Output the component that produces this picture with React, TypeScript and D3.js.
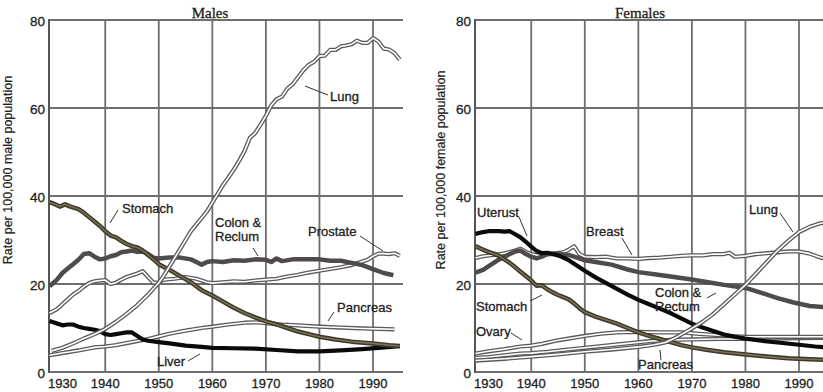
import React from "react";
import * as d3 from "d3";

type P = [number, number];

// ---------- tick labels ----------
const yTicks = [0, 20, 40, 60, 80];
const xTicks = [1930, 1940, 1950, 1960, 1970, 1980, 1990];
const xGrid = [1940, 1950, 1960, 1970, 1980, 1990];

// ---------- Males ----------
const maleLung: P[] = [
  [1930, 4.8], [1932, 5.5], [1934, 6.5], [1936, 7.6], [1938, 8.6], [1940, 9.8], [1942, 11.4], [1944, 13.2],
  [1946, 15.2], [1948, 17.6], [1950, 20.3], [1951, 22], [1952, 24], [1953, 26], [1954, 28], [1955, 30],
  [1956, 32], [1957, 33.5], [1958, 35], [1959, 36.5], [1960, 38.5], [1961, 40.5], [1962, 42.5], [1963, 44.2],
  [1964, 46], [1965, 48], [1966, 50.2], [1967, 53.2], [1968, 54.3], [1969, 56.2], [1970, 58.2], [1971, 60.6],
  [1972, 62], [1973, 62.6], [1974, 64.4], [1975, 65.4], [1976, 67], [1977, 68.6], [1978, 69.8], [1979, 70.5],
  [1980, 71.8], [1981, 71.9], [1982, 73.2], [1983, 73.2], [1984, 74], [1985, 74.2], [1986, 74.5], [1987, 75.3],
  [1988, 74.8], [1989, 74.8], [1990, 75.9], [1991, 75.1], [1992, 73.5], [1993, 73.3], [1994, 72.5], [1995, 71]
];
const maleColon: P[] = [
  [1929.6, 19.5], [1931, 21], [1932, 22.5], [1933, 23.5], [1934, 24.5], [1935, 25.5], [1936, 26.8], [1937, 27],
  [1938, 26.2], [1939, 25.6], [1940, 25.8], [1941, 26.3], [1942, 26.6], [1943, 27.2], [1944, 27.4], [1945, 27.6],
  [1946, 27.3], [1947, 27.4], [1948, 26.8], [1949, 26], [1950, 25.8], [1952, 26], [1954, 26], [1956, 25.6],
  [1957, 25], [1958, 24.4], [1959, 25], [1960, 25.2], [1962, 25], [1964, 25.4], [1966, 25.3], [1968, 25.6],
  [1970, 25.5], [1971, 25], [1972, 25.8], [1973, 25.2], [1975, 25.6], [1978, 25.6], [1980, 25.6], [1982, 25.3],
  [1984, 25.3], [1986, 24.8], [1988, 24.3], [1990, 23.4], [1992, 22.5], [1993.8, 22]
];
const maleStomach: P[] = [
  [1929.6, 38.6], [1930.5, 38.2], [1931.5, 37.6], [1932.5, 38.1], [1933.5, 37.6], [1935, 37], [1936, 36.2],
  [1937, 35.2], [1938, 34.2], [1939, 33.2], [1940, 32], [1941, 31], [1942, 30.6], [1943, 29.8], [1944, 29.1],
  [1945, 28.6], [1946, 28.3], [1947, 27.6], [1948, 26.6], [1949, 25.6], [1950, 24.5], [1952, 23.2], [1954, 21.8],
  [1956, 20.4], [1958, 18.6], [1960, 17.4], [1962, 16], [1964, 14.6], [1966, 13.4], [1968, 12.4], [1970, 11.5],
  [1972, 10.8], [1974, 10], [1976, 9.2], [1978, 8.6], [1980, 8], [1983, 7.4], [1986, 6.9], [1990, 6.5],
  [1993, 6.1], [1995, 5.9]
];
const maleProstate: P[] = [
  [1929.6, 13.4], [1931, 14.3], [1932, 15.4], [1933, 16.5], [1934, 17.6], [1935, 18.4], [1936, 19.4], [1937, 20.2],
  [1938, 20.6], [1939, 20.8], [1940, 20.9], [1941, 20], [1942, 20.3], [1943, 21], [1944, 21.6], [1945, 22],
  [1946, 22.4], [1947, 22.9], [1948, 21.6], [1949, 20.3], [1950, 20.4], [1951, 21], [1953, 21.2], [1955, 21.6],
  [1957, 21.2], [1959, 20.4], [1960, 20.2], [1962, 20.4], [1964, 20.6], [1966, 20.5], [1968, 20.8], [1970, 21],
  [1972, 21.2], [1974, 21.7], [1976, 22.1], [1978, 22.6], [1980, 23], [1982, 23.4], [1984, 23.8], [1986, 24.3],
  [1988, 25.1], [1989, 25.5], [1990, 26.3], [1991, 26.9], [1992, 26.9], [1993, 26.8], [1994, 27], [1995, 26.4]
];
const malePancreas: P[] = [
  [1929.6, 3.8], [1932, 4.3], [1935, 4.9], [1938, 5.6], [1940, 5.8], [1942, 6.1], [1945, 6.8], [1948, 7.5],
  [1950, 8.1], [1952, 8.7], [1955, 9.4], [1958, 10], [1960, 10.3], [1963, 10.8], [1966, 11.2], [1968, 11.3],
  [1970, 11.1], [1973, 10.8], [1976, 10.6], [1980, 10.3], [1984, 10.1], [1988, 9.9], [1991, 9.8], [1994, 9.7]
];
const maleLiver: P[] = [
  [1929.6, 11.6], [1931, 11], [1932, 10.6], [1933, 10.8], [1934, 10.8], [1935, 10.3], [1936, 10], [1937, 9.8],
  [1938, 9.6], [1939, 9.3], [1940, 8.6], [1941, 8.4], [1942, 8.6], [1943, 8.8], [1944, 9], [1945, 9],
  [1946, 8.2], [1947, 7.4], [1948, 7.1], [1950, 6.8], [1952, 6.5], [1955, 6], [1958, 5.7], [1960, 5.5],
  [1964, 5.4], [1968, 5.3], [1972, 5], [1976, 4.7], [1980, 4.7], [1984, 4.9], [1988, 5.2], [1991, 5.5],
  [1995, 5.9]
];

// ---------- Females ----------
const femUterus: P[] = [
  [1929.6, 31.4], [1931, 31.8], [1932, 32], [1934, 32], [1935, 31.9], [1936, 32], [1937, 31.3], [1938, 30.6],
  [1939, 29.6], [1940, 28.5], [1941, 27.5], [1942, 27], [1943, 27.1], [1944, 26.8], [1945, 26.5], [1946, 26],
  [1947, 25.4], [1948, 24.6], [1950, 23], [1952, 21.5], [1954, 20.2], [1956, 18.9], [1958, 17.6], [1960, 16.4],
  [1962, 15.4], [1964, 14.4], [1966, 13.4], [1968, 12.2], [1970, 11], [1972, 10.1], [1974, 9.3], [1976, 8.5],
  [1978, 8], [1980, 7.6], [1983, 7.1], [1986, 6.7], [1990, 6.2], [1993, 5.8], [1996, 5.5]
];
const femBreast: P[] = [
  [1929.6, 25.9], [1931, 26.3], [1933, 26.6], [1935, 27], [1937, 27.6], [1938, 28], [1939, 27.3], [1940, 26.8],
  [1941, 26.5], [1942, 26.6], [1944, 26.9], [1946, 27.2], [1947, 27.8], [1948, 28.6], [1949, 26.8], [1950, 26.2],
  [1952, 26.1], [1954, 26.2], [1956, 25.8], [1958, 25.8], [1960, 25.7], [1962, 25.9], [1964, 26], [1966, 26.2],
  [1968, 26.4], [1970, 26.5], [1972, 26.5], [1974, 26.8], [1976, 26.8], [1977, 27.1], [1978, 26.2], [1980, 26.4],
  [1982, 26.8], [1984, 27], [1986, 27.2], [1988, 27.4], [1990, 27.4], [1992, 26.9], [1994, 26], [1996, 25.6]
];
const femColon: P[] = [
  [1929.6, 22.6], [1931, 23.2], [1932, 24], [1933, 24.8], [1934, 25.6], [1935, 26.2], [1936, 26.8], [1937, 27.4],
  [1938, 27.6], [1939, 26.8], [1940, 26.2], [1941, 25.8], [1942, 26.2], [1943, 26.8], [1945, 26.8], [1947, 26.6],
  [1948, 26.2], [1950, 25.4], [1952, 25], [1955, 24.4], [1958, 23.3], [1960, 22.7], [1963, 22.2], [1966, 21.7],
  [1970, 21], [1973, 20.4], [1976, 19.8], [1980, 19.1], [1983, 18], [1986, 16.8], [1989, 15.8], [1992, 15],
  [1996, 14.6]
];
const femStomach: P[] = [
  [1929.6, 28.6], [1931, 27.8], [1932, 27.3], [1933, 26.9], [1934, 26.4], [1935, 25.6], [1936, 24.8], [1937, 23.8],
  [1938, 22.8], [1939, 21.8], [1940, 20.8], [1941, 19.6], [1942, 19.7], [1943, 18.8], [1944, 18.1], [1945, 17.5],
  [1946, 17], [1947, 16.5], [1948, 15.6], [1949, 14.5], [1950, 13.6], [1952, 12.6], [1954, 11.8], [1956, 11],
  [1958, 10], [1960, 9], [1962, 8.2], [1964, 7.5], [1966, 6.8], [1968, 6.1], [1970, 5.6], [1973, 5],
  [1976, 4.5], [1980, 4], [1984, 3.5], [1988, 3.1], [1992, 2.9], [1996, 2.7]
];
const femLung: P[] = [
  [1929.6, 2.6], [1935, 3], [1940, 3.5], [1945, 4], [1950, 4.6], [1955, 5.1], [1960, 5.7], [1963, 6.2],
  [1965, 6.7], [1967, 7.8], [1969, 9.2], [1970, 9.9], [1972, 11.4], [1974, 13.2], [1976, 15.4], [1978, 17.6],
  [1980, 19.8], [1982, 22.4], [1984, 25], [1986, 27.6], [1988, 29.8], [1990, 31.8], [1992, 33], [1994, 33.8],
  [1996, 34]
];
const femOvary: P[] = [
  [1929.6, 4.2], [1932, 4.7], [1935, 5.2], [1938, 5.8], [1940, 6], [1942, 6.4], [1945, 7.2], [1948, 7.8],
  [1950, 8.2], [1953, 8.7], [1956, 9], [1960, 9.1], [1964, 9], [1968, 9], [1972, 8.6], [1976, 8.3],
  [1980, 8], [1985, 8], [1990, 8], [1996, 8]
];
const femPancreas: P[] = [
  [1929.6, 3.2], [1932, 3.4], [1935, 3.8], [1938, 4.2], [1940, 4.3], [1943, 4.6], [1946, 5], [1950, 5.5],
  [1954, 6], [1958, 6.5], [1962, 7], [1966, 7.3], [1970, 7.4], [1975, 7.5], [1980, 7.5], [1985, 7.6],
  [1990, 7.7], [1996, 7.8]
];

type Style = "double" | "colon" | "stomach" | "black";

const maleSeries: { name: string; data: P[]; style: Style }[] = [
  { name: "Pancreas", data: malePancreas, style: "double" },
  { name: "Prostate", data: maleProstate, style: "double" },
  { name: "Liver", data: maleLiver, style: "black" },
  { name: "Colon & Rectum", data: maleColon, style: "colon" },
  { name: "Stomach", data: maleStomach, style: "stomach" },
  { name: "Lung", data: maleLung, style: "double" },
];
const femaleSeries: { name: string; data: P[]; style: Style }[] = [
  { name: "Pancreas", data: femPancreas, style: "double" },
  { name: "Ovary", data: femOvary, style: "double" },
  { name: "Breast", data: femBreast, style: "double" },
  { name: "Colon & Rectum", data: femColon, style: "colon" },
  { name: "Stomach", data: femStomach, style: "stomach" },
  { name: "Uterus", data: femUterus, style: "black" },
  { name: "Lung", data: femLung, style: "double" },
];

type Label = { lines: string[]; x: number; y: number; lead: [number, number, number, number] };
const maleLabels: Label[] = [
  { lines: ["Lung"], x: 330, y: 101, lead: [305, 86, 328, 95] },
  { lines: ["Stomach"], x: 122, y: 213, lead: [118, 210, 110, 223] },
  { lines: ["Colon &", "Reclum"], x: 215, y: 227, lead: [253, 248, 258, 256] },
  { lines: ["Prostate"], x: 308, y: 236, lead: [360, 236, 383, 251] },
  { lines: ["Pancreas"], x: 337, y: 312, lead: [334, 312, 328, 321] },
  { lines: ["Liver"], x: 157, y: 366, lead: [188, 361, 200, 354] },
];
const femaleLabels: Label[] = [
  { lines: ["Uterust"], x: 477, y: 217, lead: [519, 217, 527, 236] },
  { lines: ["Breast"], x: 586, y: 236, lead: [622, 238, 632, 255] },
  { lines: ["Stomach"], x: 476, y: 311, lead: [530, 301, 542, 295] },
  { lines: ["Colon &", "Rectum"], x: 655, y: 297, lead: [707, 298, 716, 293] },
  { lines: ["Ovary"], x: 476, y: 336, lead: [511, 333, 522, 340] },
  { lines: ["Pancreas"], x: 638, y: 369, lead: [660, 350, 661, 360] },
  { lines: ["Lung"], x: 749, y: 214, lead: [780, 213, 793, 232] },
];

const SANS = "'Liberation Sans', Arial, sans-serif";
const SERIF = "'Liberation Serif', 'Times New Roman', serif";

function Panel({
  x0, x1, title, titleX, yLabel, yLabelX, series, labels,
}: {
  x0: number; x1: number; title: string; titleX: number; yLabel: string; yLabelX: number;
  series: { name: string; data: P[]; style: Style }[]; labels: Label[];
}) {
  const x = d3.scaleLinear().domain([1929.5, 1995.6]).range([x0, x1]);
  const y = d3.scaleLinear().domain([0, 80]).range([372, 20]);
  const line = d3.line<P>().x((d) => x(d[0])).y((d) => y(d[1])).curve(d3.curveLinear);
  const grid = "#6e6e6e";
  return (
    <g>
      {yTicks.map((t) => (
        <line key={"h" + t} x1={x0} x2={x1} y1={y(t)} y2={y(t)} stroke={grid} strokeWidth={1.8} />
      ))}
      {xGrid.map((t) => (
        <line key={"v" + t} x1={x(t)} x2={x(t)} y1={y(80)} y2={y(0)} stroke={grid} strokeWidth={1.8} />
      ))}
      <line x1={x0} x2={x0} y1={y(80) - 1} y2={y(0) + 1} stroke="#555" strokeWidth={2} />
      {series.map((s) => {
        const dStr = line(s.data) || "";
        if (s.style === "double")
          return (
            <g key={s.name}>
              <path d={dStr} fill="none" stroke="#5a5a5a" strokeWidth={4.2} strokeLinejoin="round" />
              <path d={dStr} fill="none" stroke="#ffffff" strokeWidth={1.6} strokeLinejoin="round" />
            </g>
          );
        if (s.style === "colon")
          return <path key={s.name} d={dStr} fill="none" stroke="#4f4b4b" strokeWidth={4.5} strokeLinejoin="round" />;
        if (s.style === "stomach")
          return (
            <g key={s.name}>
              <path d={dStr} fill="none" stroke="#3b3828" strokeWidth={4.5} strokeLinejoin="round" />
              <path d={dStr} fill="none" stroke="#777055" strokeWidth={1.6} strokeLinejoin="round" />
            </g>
          );
        return <path key={s.name} d={dStr} fill="none" stroke="#0a0a0a" strokeWidth={4.2} strokeLinejoin="round" />;
      })}
      {yTicks.map((t) => (
        <text key={"yt" + t} x={x0 - 4} y={y(t) + 6} textAnchor="end" fontFamily={SANS} fontSize={13.5}
          fill="#222" stroke="#222" strokeWidth={0.3}>
          {t}
        </text>
      ))}
      {xTicks.map((t, i) => (
        <text key={"xt" + t} x={i === 0 ? x0 - 1 : x(t)} y={388} textAnchor={i === 0 ? "start" : "middle"}
          fontFamily={SANS} fontSize={13} fill="#222" stroke="#222" strokeWidth={0.3}>
          {t}
        </text>
      ))}
      <text x={titleX} y={18} textAnchor="middle" fontFamily={SERIF} fontSize={15} fill="#222"
        stroke="#222" strokeWidth={0.3}>
        {title}
      </text>
      <text transform={`translate(${yLabelX},170) rotate(-90)`} textAnchor="middle" fontFamily={SANS}
        fontSize={12.5} fill="#222" stroke="#222" strokeWidth={0.2}>
        {yLabel}
      </text>
      {labels.map((l, i) => (
        <g key={"l" + i}>
          <line x1={l.lead[0]} y1={l.lead[1]} x2={l.lead[2]} y2={l.lead[3]} stroke="#333" strokeWidth={1} />
          {l.lines.map((t, j) => (
            <text key={j} x={l.x} y={l.y + j * 14} fontFamily={SANS} fontSize={13} fill="#222"
              stroke="#222" strokeWidth={0.3}>
              {t}
            </text>
          ))}
        </g>
      ))}
    </g>
  );
}

export default function App() {
  return (
    <svg width={823} height={392} style={{ position: "absolute", left: 0, top: 0, background: "#fff" }}>
      <rect width={823} height={392} fill="#fff" />
      <Panel x0={49} x1={403} title="Males" titleX={210} yLabel="Rate per 100,000 male population"
        yLabelX={12} series={maleSeries} labels={maleLabels} />
      <Panel x0={475} x1={829} title="Females" titleX={640} yLabel="Rate per 100,000 female population"
        yLabelX={445} series={femaleSeries} labels={femaleLabels} />
    </svg>
  );
}
